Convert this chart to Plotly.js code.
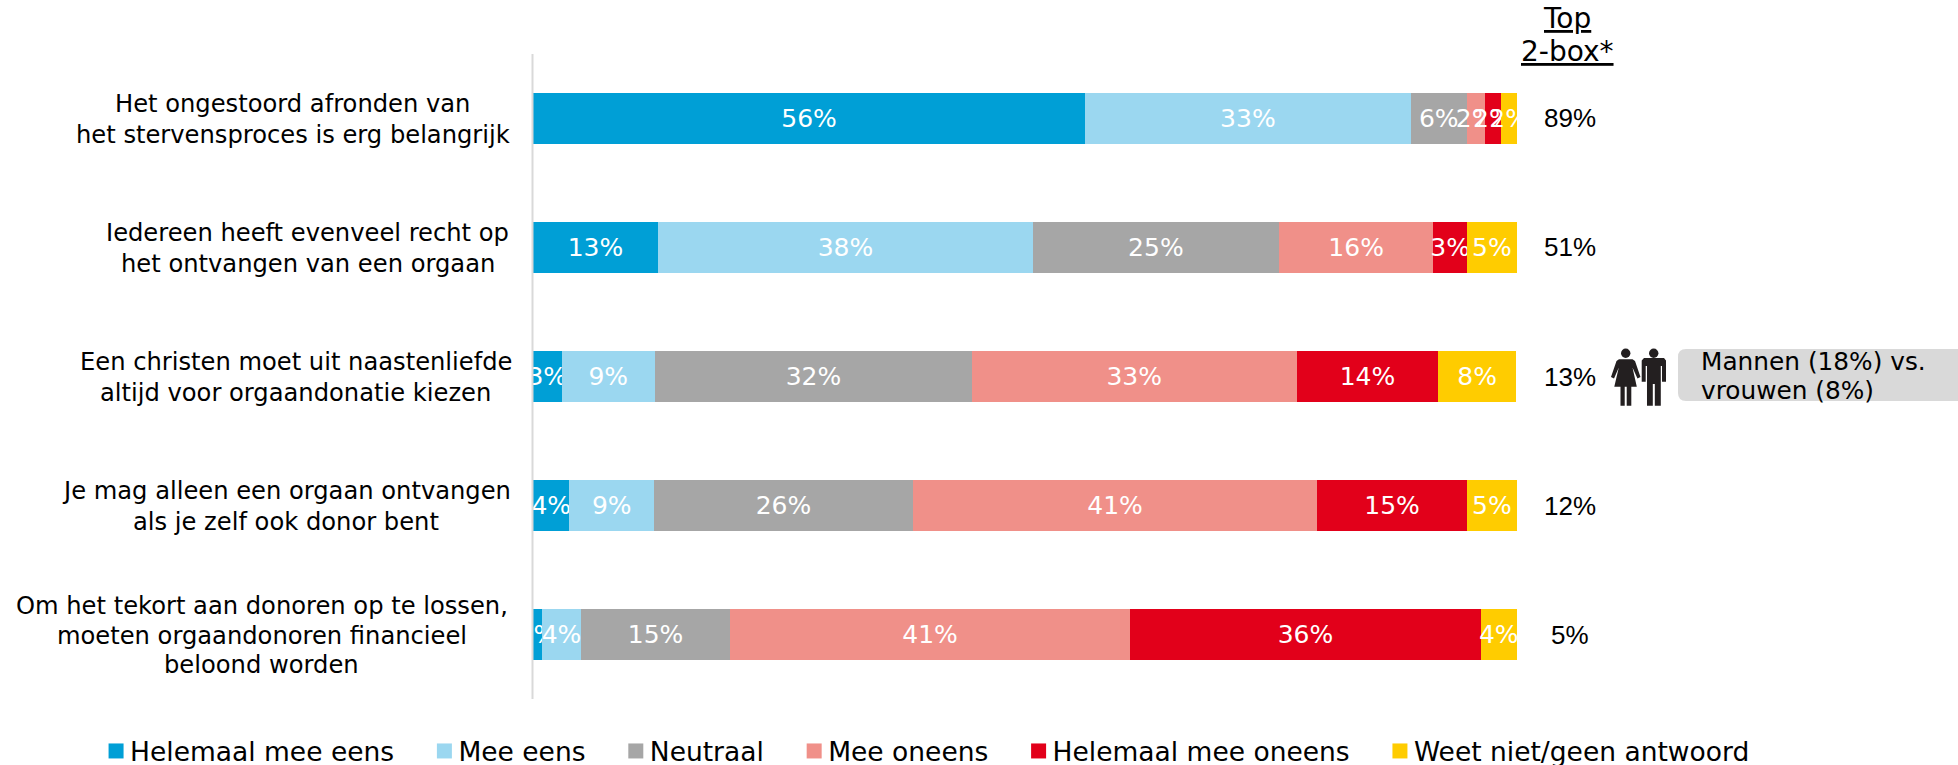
<!DOCTYPE html>
<html><head><meta charset="utf-8">
<script src="https://cdn.plot.ly/plotly-3.0.1.min.js"></script>
<style>html,body{margin:0;padding:0;background:#fff;overflow:hidden}</style>
</head><body><div id="chart" style="width:1958px;height:765px"></div>
<script>
const categories = [
  ["Het ongestoord afronden van","het stervensproces is erg belangrijk"],
  ["Iedereen heeft evenveel recht op","het ontvangen van een orgaan"],
  ["Een christen moet uit naastenliefde","altijd voor orgaandonatie kiezen"],
  ["Je mag alleen een orgaan ontvangen","als je zelf ook donor bent"],
  ["Om het tekort aan donoren op te lossen,","moeten orgaandonoren financieel","beloond worden"]
];
const seriesNames = ["Helemaal mee eens","Mee eens","Neutraal","Mee oneens","Helemaal mee oneens","Weet niet/geen antwoord"];
const seriesColors = ["#009fd6","#9bd7f0","#a6a6a6","#f09089","#e2001a","#ffcc00"];
const helemaalMeeEens = [56.1,12.7,2.9,3.7,0.9];
const meeEens = [33.1,38.1,9.5,8.6,4.0];
const neutraal = [5.7,25.0,32.2,26.3,15.1];
const meeOneens = [1.8,15.7,33.0,41.1,40.7];
const helemaalMeeOneens = [1.7,3.4,14.4,15.2,35.6];
const weetNiet = [1.6,5.1,7.9,5.1,3.7];
const labels = [
  ["56%","13%","3%","4%","1%"],
  ["33%","38%","9%","9%","4%"],
  ["6%","25%","32%","26%","15%"],
  ["2%","16%","33%","41%","41%"],
  ["2%","3%","14%","15%","36%"],
  ["2%","5%","8%","5%","4%"]
];
const top2box = ["89%","51%","13%","12%","5%"];
const calloutLines = ["Mannen (18%) vs.","vrouwen (8%)"];
const headerLines = ["Top","2-box*"];
const labelCenters = [293,308,295.5,286.5,262];
const labelLineHeights = [31,31,31,31,29.5];

const W=1958,H=765,L=533,R=1517,T=54,B=699;
const px=x=>(x/W).toFixed(5), py=y=>(1-y/H).toFixed(5);
const FONT="'DejaVu Sans', Verdana, sans-serif";
const yCats=categories.map((c,i)=>"c"+i);
const values=[helemaalMeeEens,meeEens,neutraal,meeOneens,helemaalMeeOneens,weetNiet];
const traces=values.map((v,i)=>({
  type:'bar',orientation:'h',name:seriesNames[i],y:yCats,x:v,
  marker:{color:seriesColors[i],line:{width:0}},
  text:labels[i],textposition:'inside',insidetextanchor:'middle',constraintext:'none',
  textangle:0,cliponaxis:false,
  insidetextfont:{family:FONT,size:25,color:'#ffffff'},hoverinfo:'skip'
}));

const annotations=[];
categories.forEach((lines,i)=>{
  lines.forEach((t,j)=>{
    annotations.push({xref:'paper',yref:'y',x:px(labelCenters[i]),y:yCats[i],text:t,showarrow:false,
      xanchor:'center',yanchor:'middle',yshift:-(j-(lines.length-1)/2)*labelLineHeights[i]-1,
      font:{family:FONT,size:24.2,color:'#000'}});
  });
});
top2box.forEach((t,i)=>annotations.push({xref:'paper',yref:'y',x:px(1570),y:yCats[i],text:t,showarrow:false,
  xanchor:'center',yanchor:'middle',font:{family:"'Liberation Sans',Arial,sans-serif",size:26,color:'#000'}}));
headerLines.forEach((t,j)=>annotations.push({xref:'paper',yref:'paper',x:px(1567),y:py(18.5+j*33),text:'<u>'+t+'</u>',showarrow:false,
  xanchor:'center',yanchor:'middle',font:{family:FONT,size:28,color:'#000'}}));
calloutLines.forEach((t,j)=>annotations.push({xref:'paper',yref:'paper',x:px(1699),y:py(362+j*29),text:t,showarrow:false,
  xanchor:'left',yanchor:'middle',font:{family:FONT,size:24.8,color:'#000'}}));

const pth=pts=>pts.map((p,i)=>(i?'L':'M')+px(p[0])+','+py(p[1])).join(' ')+' Z';
const circ=(cx,cy,r)=>({type:'circle',xref:'paper',yref:'paper',x0:px(cx-r),x1:px(cx+r),y0:py(cy-r),y1:py(cy+r),fillcolor:'#231f20',line:{width:0},layer:'above'});
const poly=pts=>({type:'path',xref:'paper',yref:'paper',path:pth(pts),fillcolor:'#231f20',line:{width:0},layer:'above'});
const r=8,cx0=1678,cx1=1962,cy0=349,cy1=401;
const shapes=[
  {type:'line',xref:'paper',yref:'paper',x0:px(532.5),x1:px(532.5),y0:py(54),y1:py(699),line:{color:'#d9d9d9',width:2},layer:'above'},
  {type:'path',xref:'paper',yref:'paper',fillcolor:'#d9d9d9',line:{width:0},layer:'below',
   path:`M${px(cx0+r)},${py(cy0)} L${px(cx1)},${py(cy0)} L${px(cx1)},${py(cy1)} L${px(cx0+r)},${py(cy1)} Q${px(cx0)},${py(cy1)} ${px(cx0)},${py(cy1-r)} L${px(cx0)},${py(cy0+r)} Q${px(cx0)},${py(cy0)} ${px(cx0+r)},${py(cy0)} Z`},
  circ(1625.7,353.3,4.7),
  poly([[1619,359.3],[1632.5,359.3],[1635,361],[1640.5,377],[1637.5,378.5],[1632.5,367.5],[1636.8,386.7],[1631.3,386.7],[1631.3,405.7],[1626.7,405.7],[1626.7,386.7],[1624.7,386.7],[1624.7,405.7],[1620.5,405.7],[1620.5,386.7],[1614.3,386.7],[1618.8,367.5],[1614,378.5],[1611,377],[1616.5,361]]),
  circ(1653.7,353.3,4.7),
  poly([[1644,358],[1664,358],[1666,360.5],[1666,381.7],[1662,381.7],[1662,366],[1660.8,366],[1660.8,405.7],[1654.8,405.7],[1654.8,384],[1652.8,384],[1652.8,405.7],[1647,405.7],[1647,366],[1645.7,366],[1645.7,381.7],[1641.7,381.7],[1641.7,360.5]])
];

const layout={
  width:W,height:H,barmode:'stack',bargap:0.605,showlegend:true,
  paper_bgcolor:'#fff',plot_bgcolor:'rgba(0,0,0,0)',
  margin:{l:0,r:0,t:0,b:0,pad:0,autoexpand:false},
  font:{family:FONT,size:24,color:'#000'},
  xaxis:{domain:[L/W,R/W],range:[0,100.0001],visible:false,fixedrange:true},
  yaxis:{domain:[1-B/H,1-T/H],type:'category',categoryorder:'array',categoryarray:yCats.slice().reverse(),range:[-0.5,4.5],visible:false,fixedrange:true},
  legend:{orientation:'h',x:0.046,xanchor:'left',y:0.018,yanchor:'middle',
    traceorder:'normal',font:{family:FONT,size:26.5,color:'#000'},itemwidth:30,bgcolor:'rgba(0,0,0,0)',borderwidth:0,itemclick:false,itemdoubleclick:false},
  annotations,shapes,hovermode:false
};
Plotly.newPlot('chart',traces,layout,{displayModeBar:false,staticPlot:true}).then(gd=>{
  // Widen the gaps between legend entries and enlarge the swatches, as in the reference.
  gd.querySelectorAll('.legend .scrollbox').forEach(n=>n.removeAttribute('clip-path'));
  gd.querySelectorAll('.legend .traces').forEach((n,i)=>{
    const m=/translate\(([-\d.]+)[ ,]+([-\d.]+)\)/.exec(n.getAttribute('transform'));
    if(m) n.setAttribute('transform',`translate(${+m[1]+i*19.3},${m[2]})`);
    const sw=n.querySelector('.legendpoints path');
    if(sw){
      const cur=sw.getAttribute('transform')||'';
      sw.setAttribute('transform',`translate(6,0) ${cur} scale(1.25)`);
    }
  });
});
</script></body></html>
